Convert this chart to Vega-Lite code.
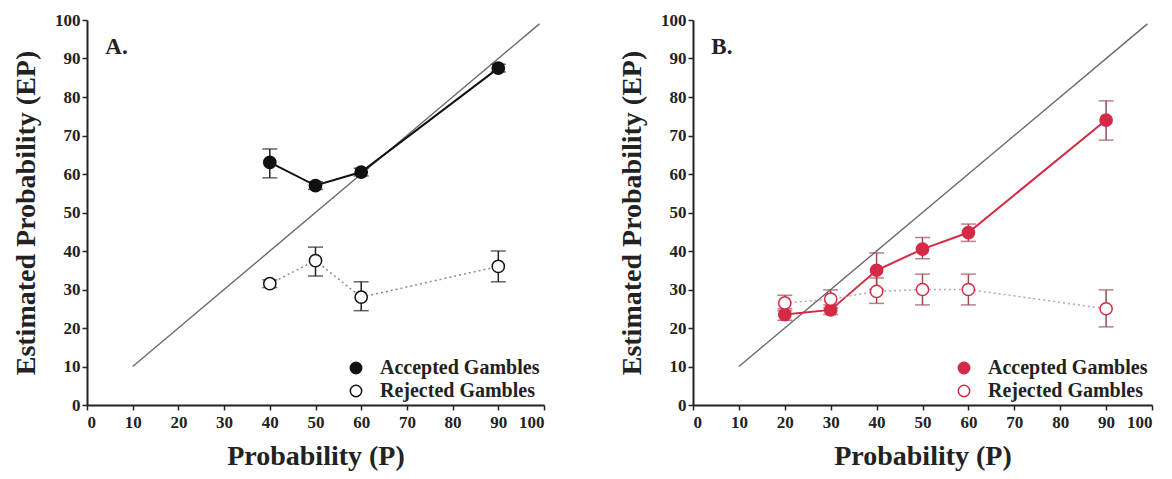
{
  "$schema": "https://vega.github.io/schema/vega-lite/v6.json",
  "background": "white",
  "padding": {"left": 12, "top": 11, "right": 5, "bottom": 5},
  "spacing": 73,
  "config": {
    "font": "Liberation Serif",
    "view": {"stroke": null},
    "axis": {
      "labelFont": "Liberation Serif", "labelFontWeight": "bold", "labelFontSize": 17, "labelColor": "#222",
      "titleFont": "Liberation Serif", "titleFontWeight": "bold", "titleFontSize": 28, "titleColor": "#222",
      "domainColor": "#222", "domainWidth": 2, "tickColor": "#222", "tickWidth": 1.5, "tickSize": 5,
      "grid": false, "labelPadding": 2
    },
    "legend": {
      "labelFont": "Liberation Serif", "labelFontWeight": "bold", "labelFontSize": 20, "labelColor": "#222",
      "symbolSize": 130, "symbolStrokeWidth": 1.5, "rowPadding": 3, "labelLimit": 300, "labelOffset": 14
    }
  },
  "datasets": {
    "diag": [{"p": 10, "ep": 10, "p2": 99, "ep2": 99}],
    "a": [
      {"P": 40, "EP": 63, "lo": 59, "hi": 66.5, "series": "Accepted Gambles"},
      {"P": 50, "EP": 57, "lo": 56, "hi": 58, "series": "Accepted Gambles"},
      {"P": 60, "EP": 60.5, "lo": 59.5, "hi": 61.5, "series": "Accepted Gambles"},
      {"P": 90, "EP": 87.5, "lo": 86.5, "hi": 88.5, "series": "Accepted Gambles"},
      {"P": 40, "EP": 31.5, "lo": 30.5, "hi": 32.5, "series": "Rejected Gambles"},
      {"P": 50, "EP": 37.5, "lo": 33.5, "hi": 41, "series": "Rejected Gambles"},
      {"P": 60, "EP": 28, "lo": 24.5, "hi": 32, "series": "Rejected Gambles"},
      {"P": 90, "EP": 36, "lo": 32, "hi": 40, "series": "Rejected Gambles"}
    ],
    "b": [
      {"P": 20, "EP": 23.5, "lo": 22, "hi": 25, "series": "Accepted Gambles"},
      {"P": 30, "EP": 24.7, "lo": 23.5, "hi": 26, "series": "Accepted Gambles"},
      {"P": 40, "EP": 35, "lo": 30, "hi": 39.5, "series": "Accepted Gambles"},
      {"P": 50, "EP": 40.5, "lo": 38, "hi": 43.5, "series": "Accepted Gambles"},
      {"P": 60, "EP": 44.8, "lo": 42.5, "hi": 47, "series": "Accepted Gambles"},
      {"P": 90, "EP": 74, "lo": 68.8, "hi": 79, "series": "Accepted Gambles"},
      {"P": 20, "EP": 26.5, "lo": 24.5, "hi": 28.5, "series": "Rejected Gambles"},
      {"P": 30, "EP": 27.5, "lo": 25.2, "hi": 29.9, "series": "Rejected Gambles"},
      {"P": 40, "EP": 29.5, "lo": 26.4, "hi": 33, "series": "Rejected Gambles"},
      {"P": 50, "EP": 30, "lo": 26, "hi": 34, "series": "Rejected Gambles"},
      {"P": 60, "EP": 30, "lo": 26, "hi": 34, "series": "Rejected Gambles"},
      {"P": 90, "EP": 25, "lo": 20.3, "hi": 29.9, "series": "Rejected Gambles"}
    ],
    "labA": [{"p": 4, "ep": 93, "t": "A."}],
    "labB": [{"p": 4, "ep": 93, "t": "B."}]
  },
  "resolve": {"scale": {"x": "independent", "y": "independent", "fill": "independent"}, "legend": {"fill": "independent"}},
  "hconcat": [
    {
      "width": 457, "height": 385,
      "encoding": {
        "x": {"type": "quantitative", "scale": {"domain": [0, 100], "nice": false}, "axis": {"values": [0,10,20,30,40,50,60,70,80,90,100], "title": "Probability (P)", "titlePadding": 12, "labelPadding": 4}},
        "y": {"type": "quantitative", "scale": {"domain": [0, 100], "nice": false}, "axis": {"values": [0,10,20,30,40,50,60,70,80,90,100], "title": "Estimated Probability (EP)", "titlePadding": 14}}
      },
      "layer": [
        {"data": {"name": "diag"}, "mark": {"type": "rule", "color": "#6a6a6a", "strokeWidth": 1.4},
         "encoding": {"x": {"field": "p", "type": "quantitative"}, "y": {"field": "ep", "type": "quantitative"}, "x2": {"field": "p2"}, "y2": {"field": "ep2"}}},
        {"data": {"name": "a"}, "transform": [{"filter": "datum.series === 'Accepted Gambles'"}], "mark": {"type": "line", "color": "#111", "strokeWidth": 2},
         "encoding": {"x": {"field": "P", "type": "quantitative"}, "y": {"field": "EP", "type": "quantitative"}}},
        {"data": {"name": "a"}, "transform": [{"filter": "datum.series === 'Rejected Gambles'"}], "mark": {"type": "line", "color": "#8a8a8a", "strokeWidth": 1.5, "strokeDash": [2, 3]},
         "encoding": {"x": {"field": "P", "type": "quantitative"}, "y": {"field": "EP", "type": "quantitative"}}},
        {"data": {"name": "a"}, "mark": {"type": "errorbar", "ticks": {"size": 15}, "color": "#222", "thickness": 1.5},
         "encoding": {"x": {"field": "P", "type": "quantitative"}, "y": {"field": "lo", "type": "quantitative"}, "y2": {"field": "hi"}}},
        {"data": {"name": "a"}, "mark": {"type": "point", "shape": "circle", "stroke": "#111", "strokeWidth": 1.5, "size": 150, "opacity": 1, "fillOpacity": 1},
         "encoding": {"x": {"field": "P", "type": "quantitative"}, "y": {"field": "EP", "type": "quantitative"},
           "fill": {"field": "series", "type": "nominal", "title": null, "scale": {"domain": ["Accepted Gambles", "Rejected Gambles"], "range": ["#111", "#ffffff"]},
             "legend": {"orient": "bottom-right", "offset": 4, "symbolStrokeColor": "#111", "symbolType": "circle"}}}},
        {"data": {"name": "labA"}, "mark": {"type": "text", "align": "left", "baseline": "middle", "fontSize": 23, "fontWeight": "bold", "color": "#222"},
         "encoding": {"x": {"field": "p", "type": "quantitative"}, "y": {"field": "ep", "type": "quantitative"}, "text": {"field": "t"}}}
      ]
    },
    {
      "width": 459, "height": 385,
      "encoding": {
        "x": {"type": "quantitative", "scale": {"domain": [0, 100], "nice": false}, "axis": {"values": [0,10,20,30,40,50,60,70,80,90,100], "title": "Probability (P)", "titlePadding": 12, "labelPadding": 4}},
        "y": {"type": "quantitative", "scale": {"domain": [0, 100], "nice": false}, "axis": {"values": [0,10,20,30,40,50,60,70,80,90,100], "title": "Estimated Probability (EP)", "titlePadding": 14}}
      },
      "layer": [
        {"data": {"name": "diag"}, "mark": {"type": "rule", "color": "#6a6a6a", "strokeWidth": 1.4},
         "encoding": {"x": {"field": "p", "type": "quantitative"}, "y": {"field": "ep", "type": "quantitative"}, "x2": {"field": "p2"}, "y2": {"field": "ep2"}}},
        {"data": {"name": "b"}, "transform": [{"filter": "datum.series === 'Accepted Gambles'"}], "mark": {"type": "line", "color": "#d42a45", "strokeWidth": 2},
         "encoding": {"x": {"field": "P", "type": "quantitative"}, "y": {"field": "EP", "type": "quantitative"}}},
        {"data": {"name": "b"}, "transform": [{"filter": "datum.series === 'Rejected Gambles'"}], "mark": {"type": "line", "color": "#c4a0a6", "strokeWidth": 1.5, "strokeDash": [2, 3]},
         "encoding": {"x": {"field": "P", "type": "quantitative"}, "y": {"field": "EP", "type": "quantitative"}}},
        {"data": {"name": "b"}, "mark": {"type": "errorbar", "ticks": {"size": 15}, "color": "#9c4a56", "thickness": 1.5},
         "encoding": {"x": {"field": "P", "type": "quantitative"}, "y": {"field": "lo", "type": "quantitative"}, "y2": {"field": "hi"}}},
        {"data": {"name": "b"}, "mark": {"type": "point", "shape": "circle", "stroke": "#d42a45", "strokeWidth": 1.5, "size": 150, "opacity": 1, "fillOpacity": 1},
         "encoding": {"x": {"field": "P", "type": "quantitative"}, "y": {"field": "EP", "type": "quantitative"},
           "fill": {"field": "series", "type": "nominal", "title": null, "scale": {"domain": ["Accepted Gambles", "Rejected Gambles"], "range": ["#d42a45", "#ffffff"]},
             "legend": {"orient": "bottom-right", "offset": 4, "symbolStrokeColor": "#d42a45", "symbolType": "circle"}}}},
        {"data": {"name": "labB"}, "mark": {"type": "text", "align": "left", "baseline": "middle", "fontSize": 23, "fontWeight": "bold", "color": "#222"},
         "encoding": {"x": {"field": "p", "type": "quantitative"}, "y": {"field": "ep", "type": "quantitative"}, "text": {"field": "t"}}}
      ]
    }
  ]
}
